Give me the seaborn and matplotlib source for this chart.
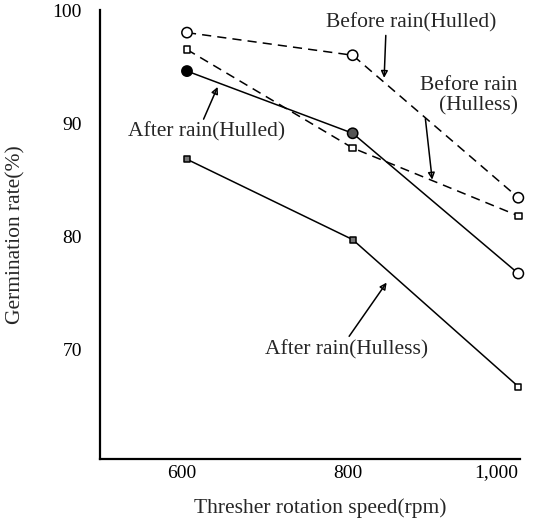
import matplotlib
matplotlib.use("Agg")
import matplotlib.pyplot as plt
import matplotlib.transforms as mtransforms
import seaborn as sns
import pandas as pd

speeds = [600, 800, 1000]
before_hulled = [98.0, 96.0, 83.4]
before_hulless = [96.5, 87.8, 81.8]
after_hulled = [94.6, 89.1, 76.7]
after_hulless = [86.8, 79.7, 66.7]

series_names = ["Before rain(Hulled)", "Before rain(Hulless)", "After rain(Hulled)", "After rain(Hulless)"]
series_values = [before_hulled, before_hulless, after_hulled, after_hulless]
series_dashed = [True, True, False, False]
series_marker = ["o", "s", "o", "s"]
series_msize = [55, 22, 55, 18]
series_fill = [["white"] * 3, ["white"] * 3, ["black", "#555555", "white"], ["#777777", "#777777", "white"]]

xtick_vals = [600, 800, 1000]
xtick_labels = ["600", "800", "1,000"]
ytick_vals = [70, 80, 90, 100]

sns.set_theme(style="white")
plt.rcParams["font.family"] = ["Liberation Serif", "DejaVu Serif"]

fig = plt.figure(figsize=(5.34, 5.23), dpi=100)
ax = fig.add_axes([100 / 534, (523 - 459) / 523, 420 / 534, 449 / 523])

for name, vals, dashed, mk, ms, fills in zip(series_names, series_values, series_dashed,
                                              series_marker, series_msize, series_fill):
    df = pd.DataFrame({"speed": speeds, "rate": vals})
    sns.lineplot(data=df, x="speed", y="rate", ax=ax, color="black", lw=1.1,
                 linestyle=(0, (6, 4)) if dashed else "-", zorder=2, clip_on=False)
    sns.scatterplot(data=df, x="speed", y="rate", ax=ax, marker=mk, s=ms,
                    facecolor=fills, edgecolor="black", linewidth=1.1, zorder=3,
                    clip_on=False)

ax.set_xlim(495, 1002)
ax.set_ylim(60.3, 100)
ax.set_xticks(xtick_vals)
ax.set_xticklabels(xtick_labels)
ax.set_yticks(ytick_vals)
for s in ["top", "right"]:
    ax.spines[s].set_visible(False)
for s in ["left", "bottom"]:
    ax.spines[s].set_color("black")
    ax.spines[s].set_linewidth(1.6)
ax.tick_params(axis="both", direction="in", length=7, width=1.6, colors="black",
               labelsize=14)
ax.tick_params(axis="x", pad=4)
ax.tick_params(axis="y", pad=13)

shift = mtransforms.ScaledTranslation(-5 / 100, 0, fig.dpi_scale_trans)
for lbl in ax.get_xticklabels():
    lbl.set_transform(lbl.get_transform() + shift)
last = ax.get_xticklabels()[-1]
last.set_horizontalalignment("right")
last.set_transform(last.get_transform() + mtransforms.ScaledTranslation(5 / 100, 0, fig.dpi_scale_trans))

ax.set_xlabel("Thresher rotation speed(rpm)", fontsize=15.5, va="center")
ax.set_ylabel("Germination rate(%)", fontsize=15.5, va="center")
ax.xaxis.set_label_coords((320 - 100) / 420, -(508 - 459) / 449)
ax.yaxis.set_label_coords(-(100 - 16) / 420, 0.5)

fs = 15.5
arrowprops = dict(arrowstyle="-|>", color="black", lw=1.1, mutation_scale=10,
                  fill=False, shrinkA=0, shrinkB=0)
ax.annotate("Before rain(Hulled)", xy=(838, 94.0), xytext=(871, 98.9), fontsize=fs,
            ha="center", va="center", arrowprops=dict(arrowprops, relpos=(0.35, 0.0)))
ax.annotate("Before rain\n(Hulless)", xy=(896, 85.0), xytext=(999, 92.4), fontsize=fs,
            ha="right", va="center", multialignment="right", linespacing=1.05,
            arrowprops=dict(arrowprops, relpos=(0.05, 0.0)))
ax.annotate("After rain(Hulled)", xy=(637, 93.2), xytext=(624, 89.2), fontsize=fs,
            ha="center", va="center", arrowprops=dict(arrowprops, relpos=(0.47, 1.0)))
ax.annotate("After rain(Hulless)", xy=(841, 75.9), xytext=(793, 70.0), fontsize=fs,
            ha="center", va="center", arrowprops=dict(arrowprops, relpos=(0.5, 1.0)))

fig.savefig("out.png", dpi=100)
